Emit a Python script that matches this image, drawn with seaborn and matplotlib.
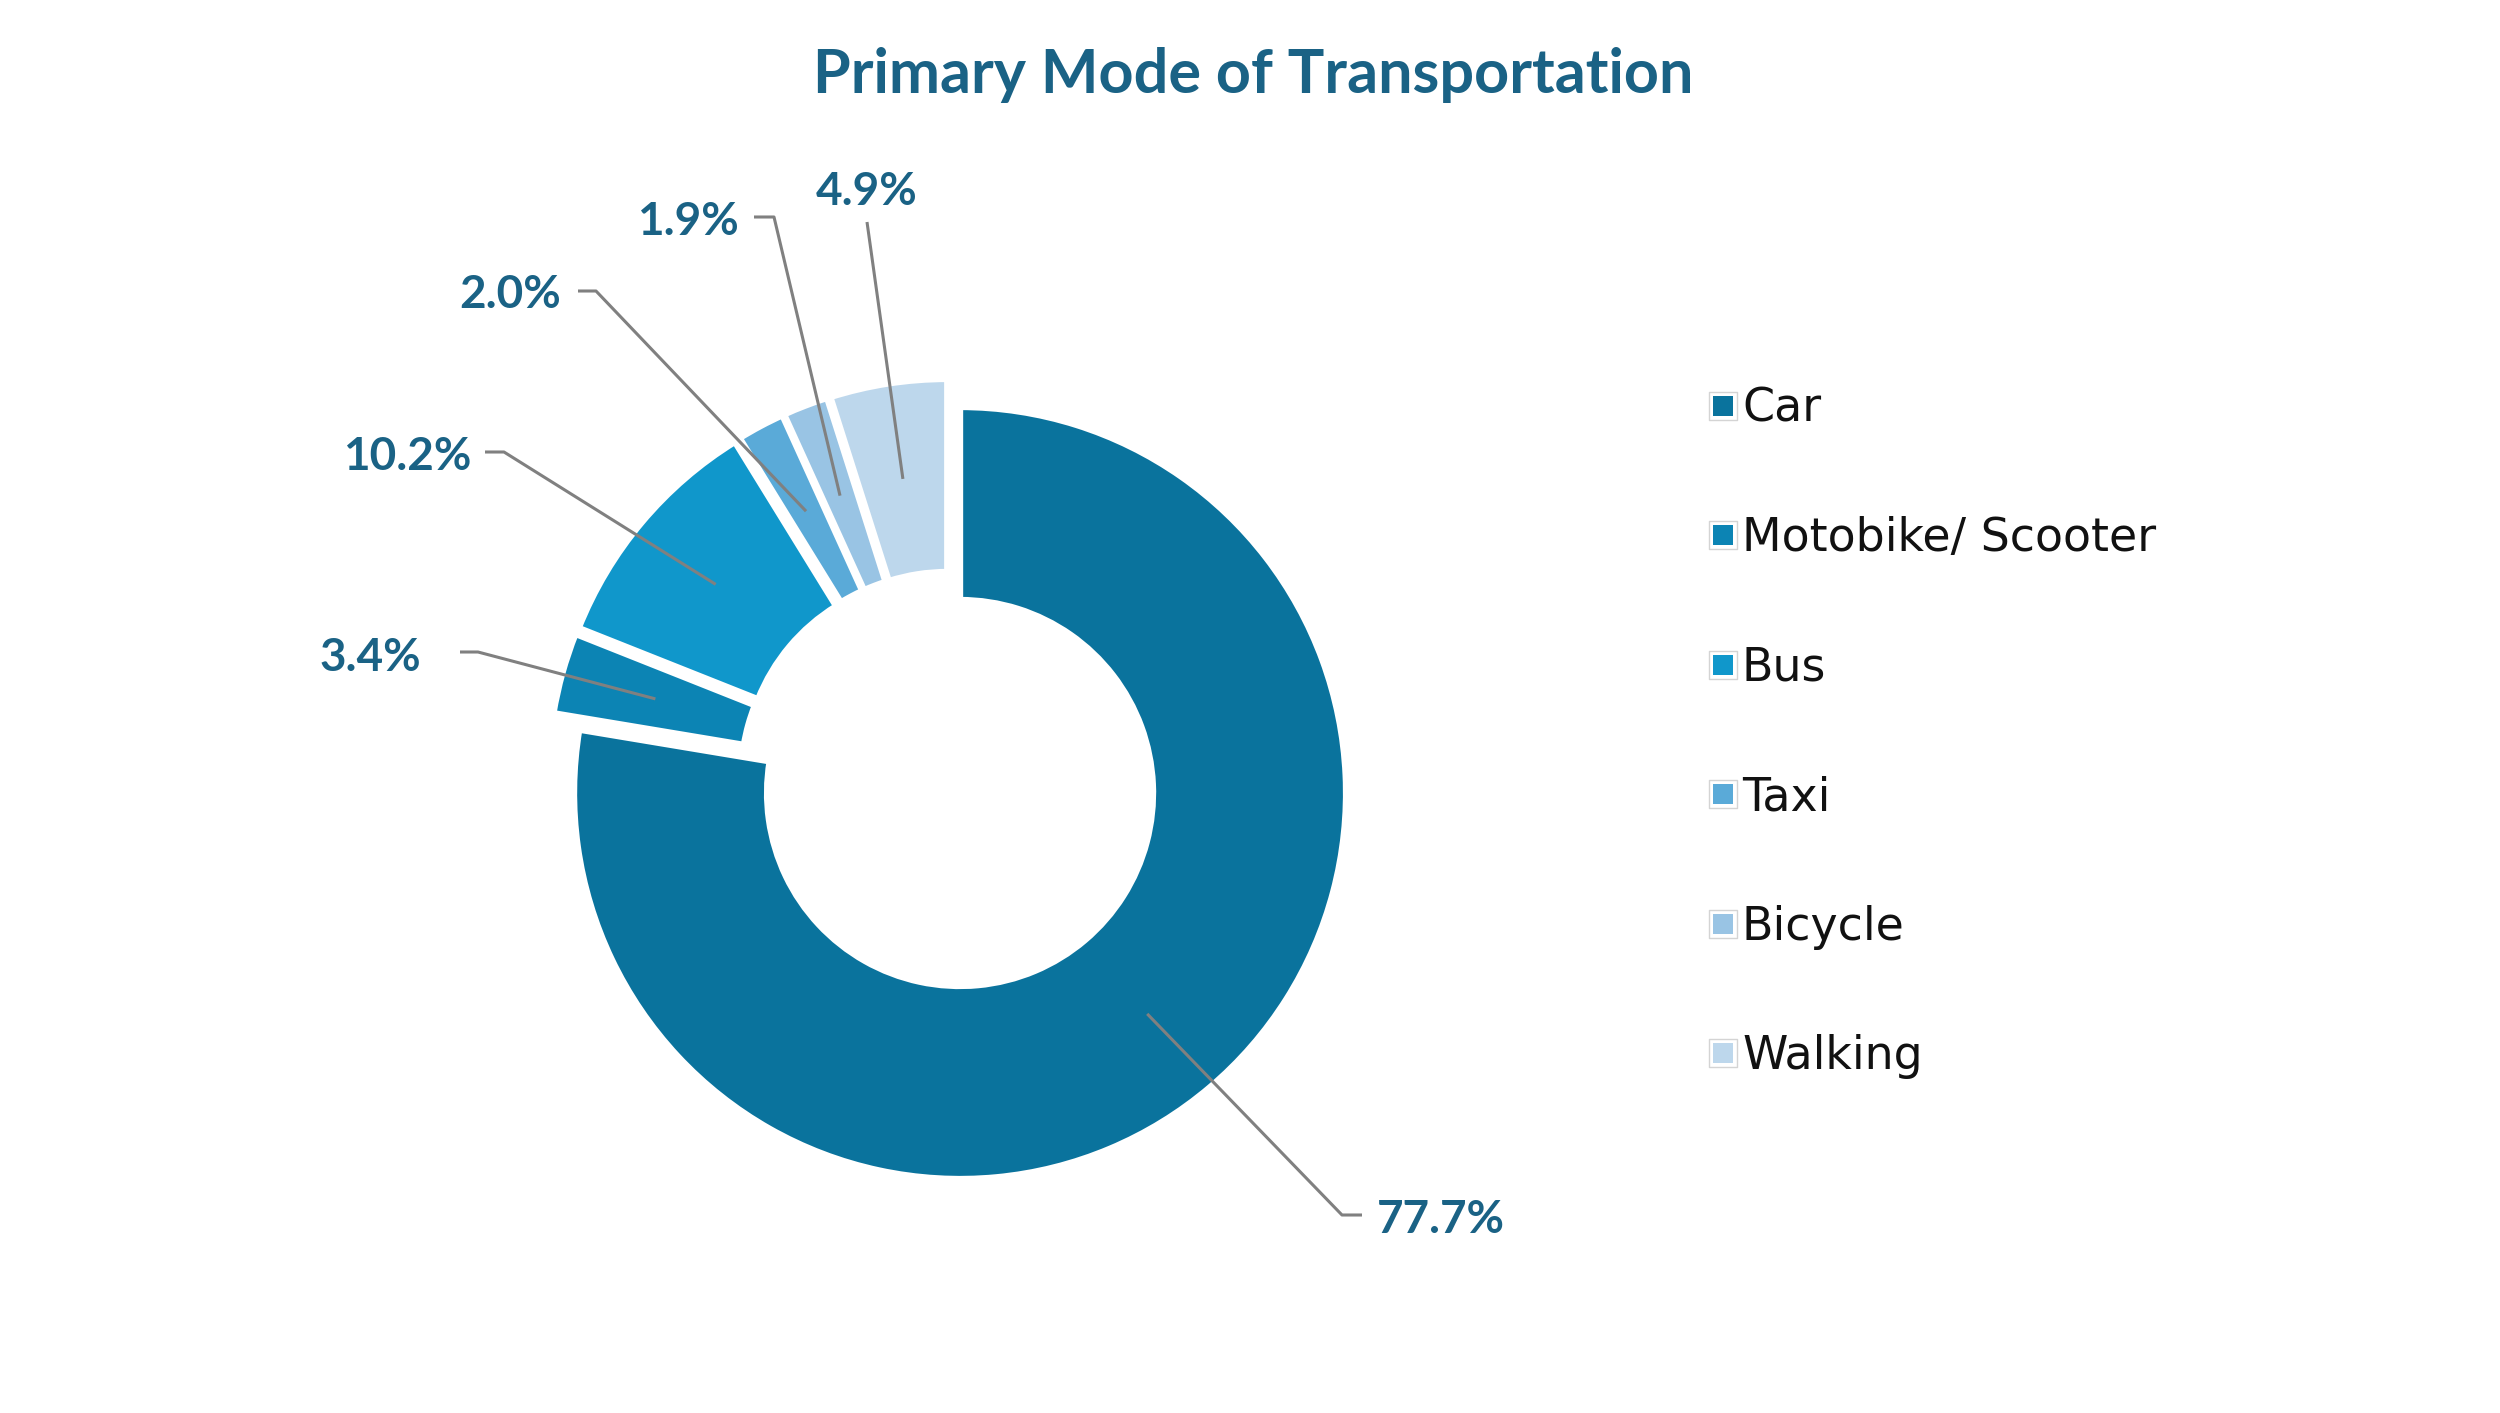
import numpy as np
import matplotlib
matplotlib.use("Agg")
import matplotlib.pyplot as plt
import seaborn as sns

# ---------------- data ----------------
categories = ["Car", "Motobike/ Scooter", "Bus", "Taxi", "Bicycle", "Walking"]
shares = [77.7, 3.4, 10.2, 2.0, 1.9, 4.9]
label_texts = [f"{v:.1f}%" for v in shares]
title_text = "Primary Mode of Transportation"

# ---------------- style ----------------
palette = ["#0a739d", "#0c84b4", "#1097cb", "#5aaad8", "#99c4e4", "#bdd7ec"]
accent = "#1a6285"
leader_col = "#808080"

W, H = 2500, 1413
sns.set_theme(style="white")
plt.rcParams["font.family"] = ["Lato", "DejaVu Sans"]

fig = plt.figure(figsize=(W / 100, H / 100), dpi=100)
ax = fig.add_axes([0, 0, 1, 1])

R = 386
ring = 193
cx, cy = 949.7, H - 780.8
explode_px = 16

wedges, _ = ax.pie(
    shares,
    colors=sns.color_palette(palette),
    startangle=90,
    counterclock=False,
    radius=R,
    center=(cx, cy),
    wedgeprops=dict(width=ring, edgecolor="white", linewidth=4.5),
)
# explode every wedge outward along its mid angle
mids = []
for w in wedges:
    th = np.deg2rad((w.theta1 + w.theta2) / 2)
    w.set_center((cx + explode_px * np.cos(th), cy + explode_px * np.sin(th)))
    mids.append(th)

ax.set_xlim(0, W)
ax.set_ylim(0, H)
ax.set_aspect("equal")
ax.axis("off")

# ---------------- data labels with leader lines ----------------
# (text x, text baseline y, ha, leader path after the wedge anchor) in image px
label_layout = [
    (1377, 1233, "left", [(1342, 1215), (1362, 1215)]),
    (421, 671, "right", [(478, 652), (460, 652)]),
    (471, 470, "right", [(504, 452), (485, 452)]),
    (561, 308, "right", [(596, 291), (578, 291)]),
    (739, 235, "right", [(774, 217), (754, 217)]),
    (867, 205, "center", [(867, 222)]),
]
r_mid = R - ring / 2
for w, th, txt, (tx, ty, ha, path) in zip(wedges, mids, label_texts, label_layout):
    wx, wy = w.center
    sx, sy = wx + r_mid * np.cos(th), wy + r_mid * np.sin(th)
    xs = [sx] + [p[0] for p in path]
    ys = [sy] + [H - p[1] for p in path]
    ax.plot(xs, ys, color=leader_col, lw=2.2, solid_capstyle="butt", zorder=5)
    ax.text(tx, H - ty, txt, ha=ha, va="baseline", fontsize=33,
            fontweight="bold", color=accent, zorder=6)

# ---------------- title ----------------
ax.text(1253, H - 93, title_text, ha="center", va="baseline", fontsize=44,
        fontweight="bold", color=accent)

# ---------------- legend ----------------
leg_x, leg_y0, leg_dy = 1723, 406, 129.4
for i, (name, col) in enumerate(zip(categories, palette)):
    y = H - (leg_y0 + i * leg_dy)
    ax.scatter([leg_x], [y], marker="s", s=27 ** 2 * 0.52, facecolor="white",
               edgecolor="#d4d4d4", linewidth=1.0, zorder=3)
    ax.scatter([leg_x], [y], marker="s", s=20 ** 2 * 0.52, facecolor=col,
               edgecolor="none", zorder=4)
    ax.text(1742, y - 16, name, ha="left", va="baseline", fontsize=33,
            family=["DejaVu Sans"], color="#111111")

fig.savefig("out.png", dpi=100, facecolor="white")
